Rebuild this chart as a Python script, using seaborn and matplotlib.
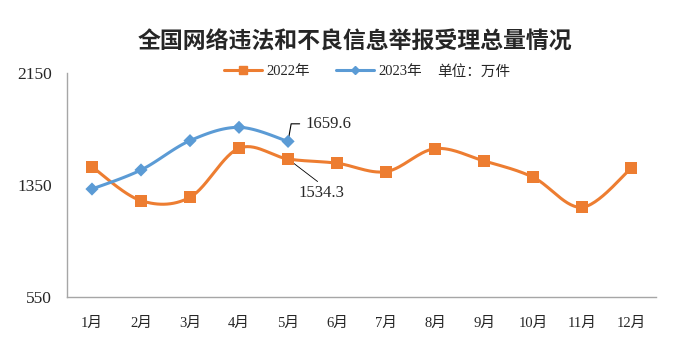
import numpy as np
import pandas as pd
import matplotlib
matplotlib.use("Agg")
import matplotlib.pyplot as plt
from matplotlib.lines import Line2D
import seaborn as sns

months = ["1月", "2月", "3月", "4月", "5月", "6月", "7月", "8月", "9月", "10月", "11月", "12月"]
v2022 = [1479, 1237, 1261, 1611, 1534.3, 1504, 1444, 1608, 1520, 1404, 1190, 1468]
v2023 = [1320, 1456, 1665, 1760, 1659.6]
yticks = [550, 1350, 2150]
series_names = ["2022年", "2023年"]

C22 = "#ED7D31"
C23 = "#5B9BD5"

sns.set_style("white")
plt.rcParams["font.family"] = ["Liberation Serif", "Noto Sans CJK SC"]


def smooth(y, n=30):
    # Catmull-Rom (Excel-like smoothed line) through the data points
    y = np.asarray(y, dtype=float)
    x = np.arange(len(y), dtype=float)
    P = np.column_stack([x, y])
    out = []
    for i in range(len(P) - 1):
        p0 = P[i - 1] if i > 0 else P[i]
        p1, p2 = P[i], P[i + 1]
        p3 = P[i + 2] if i + 2 < len(P) else P[i + 1]
        c1 = p1 + (p2 - p0) / 6.0
        c2 = p2 - (p3 - p1) / 6.0
        t = np.linspace(0, 1, n, endpoint=(i == len(P) - 2))[:, None]
        b = (1 - t) ** 3 * p1 + 3 * (1 - t) ** 2 * t * c1 + 3 * (1 - t) * t ** 2 * c2 + t ** 3 * p2
        out.append(b)
    arr = np.vstack(out)
    return arr[:, 0], arr[:, 1]


fig = plt.figure(figsize=(6.92, 3.41), dpi=100)
ax = fig.add_axes([0.0975, 0.129, 0.85, 0.658])

for vals, color in [(v2022, C22), (v2023, C23)]:
    sx, sy = smooth(vals)
    sns.lineplot(x=sx, y=sy, ax=ax, color=color, linewidth=2.2, sort=False, estimator=None)

df22 = pd.DataFrame({"x": np.arange(len(v2022)), "v": v2022})
df23 = pd.DataFrame({"x": np.arange(len(v2023)), "v": v2023})
sns.scatterplot(data=df22, x="x", y="v", ax=ax, marker="s", s=75, color=C22, edgecolor="none", zorder=5)
sns.scatterplot(data=df23, x="x", y="v", ax=ax, marker="D", s=45, color=C23, edgecolor="none", zorder=5)

ax.set_xlim(-0.5, len(months) - 0.5)
ax.set_ylim(yticks[0], yticks[-1])
ax.set_yticks(yticks)
ax.set_yticklabels([str(t) for t in yticks], fontsize=12.5)
ax.set_xticks(np.arange(len(months)))
ax.set_xticklabels(months, fontsize=10.5)
ax.set_xticks(np.arange(len(months) + 1) - 0.5, minor=True)
ax.tick_params(axis="x", which="major", length=0, pad=14)
ax.tick_params(axis="x", which="minor", length=5, color="#A6A6A6", width=1, direction="out")
ax.tick_params(axis="y", length=0, pad=11)
ax.set_xlabel("")
ax.set_ylabel("")
for s in ["top", "right"]:
    ax.spines[s].set_visible(False)
for s in ["left", "bottom"]:
    ax.spines[s].set_color("#A6A6A6")
    ax.spines[s].set_linewidth(1)
ax.grid(False)

# data labels
ax.annotate("1659.6", xy=(4, v2023[4]), xytext=(4.36, 1785), fontsize=12,
            va="center", ha="left",
            arrowprops=dict(arrowstyle="-", color="black", lw=0.8,
                            connectionstyle="angle,angleA=0,angleB=80,rad=0",
                            shrinkA=2, shrinkB=2))
ax.annotate("1534.3", xy=(4, v2022[4]), xytext=(4.69, 1350), fontsize=12,
            va="top", ha="center",
            arrowprops=dict(arrowstyle="-", color="black", lw=0.6, shrinkA=0, shrinkB=2,
                            relpos=(0.5, 1.0)))

# title
fig.text(0.513, 0.875, "全国网络违法和不良信息举报受理总量情况", ha="center", va="center",
         fontsize=16.5, fontweight="bold", family=["Noto Sans CJK SC"])

handles = [
    Line2D([], [], color=C22, lw=2.2, marker="s", markersize=6),
    Line2D([], [], color=C23, lw=2.2, marker="D", markersize=4.5),
]
fig.legend(handles, series_names, loc="center left", bbox_to_anchor=(0.305, 0.79), ncol=2,
           frameon=False, fontsize=10.5, handlelength=2.6, columnspacing=1.8, handletextpad=0.3)
fig.text(0.632, 0.79, "单位：万件", ha="left", va="center", fontsize=10.5,
         family=["Noto Sans CJK SC"])

fig.savefig("out.png", dpi=100)
